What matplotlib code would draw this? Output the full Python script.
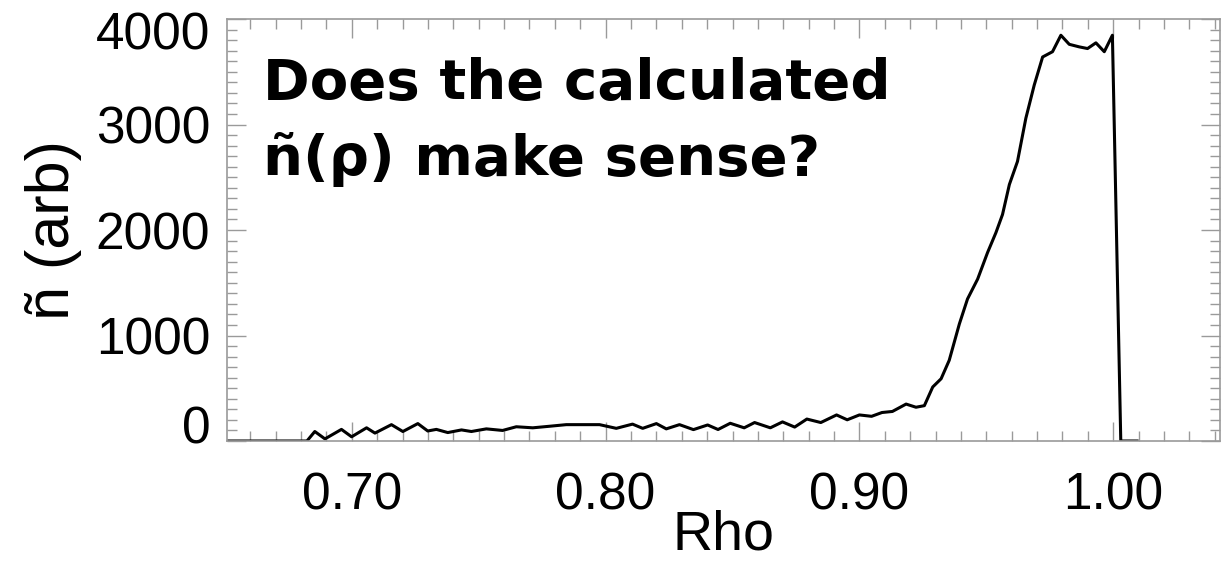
import matplotlib
matplotlib.use("Agg")
import matplotlib.pyplot as plt
from matplotlib.ticker import MultipleLocator
from matplotlib.transforms import ScaledTranslation

# profile (rho, n~ in arbitrary units)
rho = [0.651, 0.6823, 0.6854, 0.6894, 0.6959, 0.6999, 0.7058, 0.7091, 0.7156, 0.7201,
       0.7260, 0.7299, 0.7333, 0.7378, 0.7432, 0.7471, 0.7530, 0.7594, 0.7648, 0.7713,
       0.7780, 0.7845, 0.7909, 0.7976, 0.8042, 0.8106, 0.8146, 0.8200, 0.8239, 0.8291,
       0.8346, 0.8402, 0.8443, 0.8491, 0.8546, 0.8587, 0.8649, 0.8697, 0.8745, 0.8793,
       0.8848, 0.8910, 0.8952, 0.9000, 0.9048, 0.9089, 0.9130, 0.9184, 0.9223, 0.9256,
       0.9289, 0.9322, 0.9354, 0.9394, 0.9426, 0.9466, 0.9505, 0.9538, 0.9564, 0.9591,
       0.9623, 0.9656, 0.9689, 0.9722, 0.9761, 0.9794, 0.9827, 0.9866, 0.9899, 0.9932,
       0.9965, 0.9997, 1.0030, 1.0094]
n_tilde = [0, 0, 90, 20, 110, 40, 125, 75, 155, 90,
           165, 95, 110, 80, 105, 90, 115, 100, 135, 125,
           140, 155, 155, 155, 120, 160, 120, 165, 115, 155,
           108, 152, 109, 168, 125, 175, 125, 181, 132, 208,
           175, 247, 201, 247, 234, 270, 280, 350, 320, 335,
           512, 590, 765, 1110, 1346, 1535, 1786, 1975, 2147, 2431,
           2650, 3060, 3374, 3640, 3690, 3846, 3760, 3736, 3720, 3774,
           3690, 3846, 0, 0]

xticks = [0.70, 0.80, 0.90, 1.00]
xtick_labels = ["0.70", "0.80", "0.90", "1.00"]
yticks = [0, 1000, 2000, 3000, 4000]
ytick_labels = ["0", "1000", "2000", "3000", "4000"]

W, H = 1230, 563
fig = plt.figure(figsize=(W / 100, H / 100), dpi=100)
ax = fig.add_axes([227 / W, 1 - 441 / H, (1220 - 227) / W, (441 - 19) / H])

ax.plot(rho, n_tilde, color="black", lw=2.2)

ax.set_xlim(0.6508, 1.0421)
ax.set_ylim(0, 4000)
ax.set_xticks(xticks, xtick_labels)
ax.set_yticks(yticks, ytick_labels)
ax.xaxis.set_minor_locator(MultipleLocator(0.01))
ax.yaxis.set_minor_locator(MultipleLocator(100))

grey = "#9a9a9a"
for s in ax.spines.values():
    s.set_color(grey)
    s.set_linewidth(1.2)
ax.tick_params(which="both", direction="in", top=True, right=True, color=grey, width=1.0)
ax.tick_params(which="major", length=14)
ax.tick_params(which="minor", length=7)
ax.tick_params(axis="x", which="major", pad=22)
ax.tick_params(axis="y", which="major", pad=12)
for lbl in ax.get_xticklabels() + ax.get_yticklabels():
    lbl.set_fontfamily(["Liberation Sans", "DejaVu Sans"])
    lbl.set_fontsize(37)

# IDL pushes the end labels inside the axis range
yt = ax.yaxis.get_major_ticks()
yt[0].label1.set_transform(yt[0].label1.get_transform()
                           + ScaledTranslation(0, 17 / 100, fig.dpi_scale_trans))
yt[-1].label1.set_transform(yt[-1].label1.get_transform()
                            + ScaledTranslation(0, -12 / 100, fig.dpi_scale_trans))

ax.set_xlabel("Rho", fontsize=40, family=["Liberation Sans", "DejaVu Sans"])
ax.xaxis.set_label_coords(0.5, -(509 - 441) / 422)
ax.set_ylabel("ñ (arb)", fontsize=44, family=["Liberation Sans", "DejaVu Sans"])
ax.yaxis.set_label_coords(-(227 - 82) / 993, 0.5)

fig.text(263 / W, 1 - 99 / H, "Does the calculated", fontsize=40.5, fontweight="bold",
         family=["DejaVu Sans"], va="baseline", ha="left")
fig.text(263 / W, 1 - 175 / H, "ñ(ρ) make sense?", fontsize=40.5, fontweight="bold",
         family=["DejaVu Sans"], va="baseline", ha="left")

fig.savefig("out.png", dpi=100)
